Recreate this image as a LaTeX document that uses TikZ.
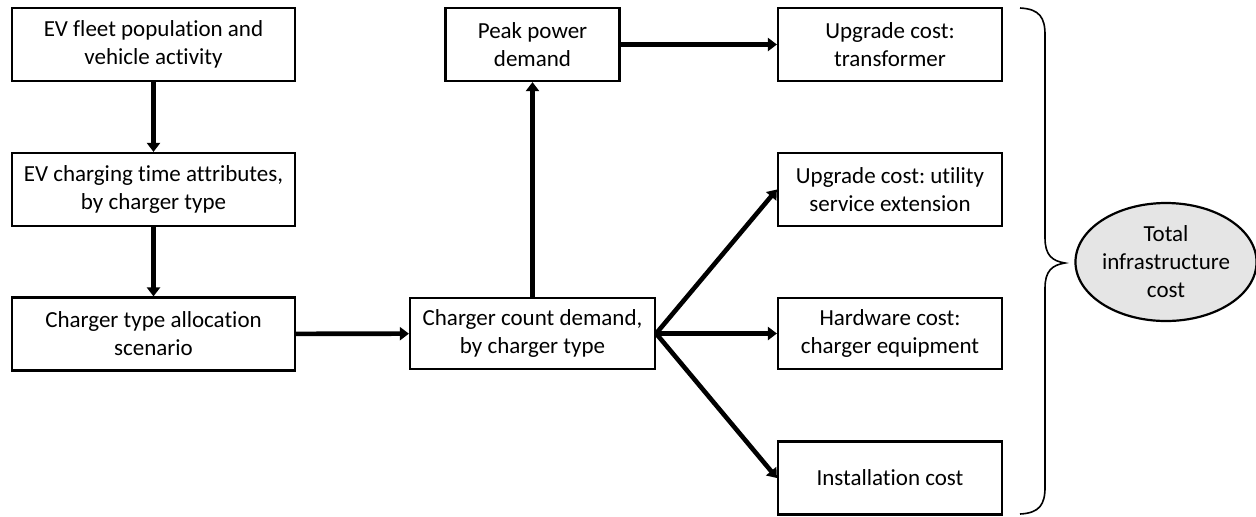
\documentclass[tikz,border=0pt]{standalone}
\usepackage{fontspec}
\setmainfont{Carlito}[Ligatures=NoCommon]
\usetikzlibrary{positioning}
\usetikzlibrary{arrows.meta}
\usetikzlibrary{shapes.geometric}

\tikzset{
  box/.style={draw, line width=1.1pt, align=center, minimum height=36.5pt, inner sep=2pt},
  flow/.style={line width=2.3pt, -{Triangle[length=4.5pt,width=6.5pt]}},
}

\begin{document}
\frenchspacing
\begin{tikzpicture}[x=0.5pt, y=-0.5pt, font=\fontsize{11.5}{14}\selectfont]
  \useasboundingbox (0,0) rectangle (1256,516);

  % left column
  \node[box, minimum width=141.5pt] (fleet) at (153.5,44.5) {EV fleet population and\\vehicle activity};
  \node[box, minimum width=141.5pt] (timing) at (153.5,189.5) {EV charging time attributes,\\by charger type};
  \node[box, minimum width=141.5pt] (alloc) at (153.5,334) {Charger type allocation\\scenario};

  % middle column
  \node[box, minimum width=87pt] (peak) at (532.5,44.5) {Peak power\\demand};
  \node[box, minimum width=122.5pt, minimum height=35.5pt] (count) at (532.5,333.5) {Charger count demand,\\by charger type};

  % cost boxes
  \node[box, minimum width=112pt] (trafo) at (890,44.5) {Upgrade cost:\\transformer};
  \node[box, minimum width=112pt] (util) at (890,189.5) {Upgrade cost: utility\\service extension};
  \node[box, minimum width=112pt, minimum height=35.5pt] (hw) at (890,333.5) {Hardware cost:\\charger equipment};
  \node[box, minimum width=112pt] (inst) at (890,478) {Installation cost};

  % total
  \node[draw, ellipse, line width=1.1pt, fill=black!10, align=center, minimum width=89pt, minimum height=59pt, inner sep=0pt] (total) at (1166,262) {Total\\infrastructure\\cost};

  \draw[flow] (fleet) -- (timing);
  \draw[flow] (timing) -- (alloc);
  \draw[flow] (alloc) -- (count);
  \draw[flow] (count) -- (peak);
  \draw[flow] (peak) -- (trafo);
  \draw[flow] (count.east) -- (util.west);
  \draw[flow] (count.east) -- (hw.west);
  \draw[flow] (count.east) -- (inst.west);

  % brace
  \coordinate (tip) at (1065,263);
  \draw[line width=0.8pt] (1020,8) .. controls (1040,9) and (1045,18) .. (1045,35)
    -- (1045,238) .. controls (1045,255) and (1052,261) .. (tip)
    .. controls (1052,265) and (1045,271) .. (1045,288)
    -- (1045,487) .. controls (1045,504) and (1040,513) .. (1020,514);
\end{tikzpicture}
\end{document}
